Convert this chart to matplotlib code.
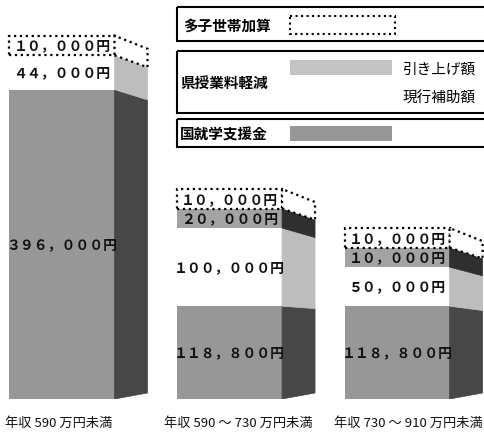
import matplotlib.pyplot as plt
from matplotlib.patches import Polygon, Rectangle

plt.rcParams['font.family'] = ['Noto Sans CJK JP', 'DejaVu Sans']

# data
categories = ['年収 590 万円未満', '年収 590 ～ 730 万円未満', '年収 730 ～ 910 万円未満']
kuni = [396000, 118800, 118800]      # 国就学支援金
genko = [44000, 100000, 50000]       # 現行補助額
hikiage = [0, 20000, 10000]          # 引き上げ額
tashi = [10000, 10000, 10000]        # 多子世帯加算

# small segments are drawn at least this tall, as in the original
min_h = 25000

def disp(v):
    return max(v, min_h) if v > 0 else 0

def zen(v):
    s = f'{v:,}円'
    return s.translate(str.maketrans('0123456789,', '０１２３４５６７８９，'))

# look of each layer: front colour, side colour, dotted outline
styles = [
    ('#979797', '#474747', False),
    ('white', '#bdbdbd', False),
    ('#a3a3a3', '#2f2f2f', False),
    ('white', 'white', True),
]

fig = plt.figure(figsize=(4.85, 4.39), dpi=100)
ax = fig.add_axes([0, 39/439, 1, 400/439])
ax.set_xlim(-0.370, 2.525)
ax.set_ylim(0, 512000)
ax.axis('off')

w = 0.627
depth = 0.197
d_top = 16700
d_bot = -7700
label_shift = [-0.02, 0.05, 0.07]

for i in range(3):
    layers = [kuni[i], genko[i], hikiage[i], tashi[i]]
    H = sum(disp(v) for v in layers)
    def drop(y):
        return d_bot + (d_top - d_bot) * y / H
    y0 = 0
    xr = i + w / 2
    for v, (fc, sc, dotted) in zip(layers, styles):
        h = disp(v)
        if h == 0:
            continue
        y1 = y0 + h
        ax.bar(i, h, width=w, bottom=y0, color=fc,
               edgecolor='black' if dotted else 'none',
               linestyle=':' if dotted else '-', linewidth=1.6)
        side = Polygon([(xr, y0), (xr + depth, y0 - drop(y0)),
                        (xr + depth, y1 - drop(y1)), (xr, y1)],
                       closed=True, facecolor=sc,
                       edgecolor='black' if dotted else sc,
                       linestyle=':' if dotted else '-',
                       linewidth=1.6 if dotted else 0.5)
        ax.add_patch(side)
        ax.text(i, (y0 + y1) / 2, zen(v), ha='center', va='center',
                fontsize=10, fontweight='bold', color='#111111')
        y0 = y1
    ax.text(i + label_shift[i], -22000, categories[i], ha='center', va='top',
            fontsize=9.5, color='#111111')

# legend panel (pixel coordinates)
lg = fig.add_axes([0, 0, 1, 1])
lg.set_xlim(0, 485)
lg.set_ylim(439, 0)
lg.axis('off')

for top, bot in [(8, 42), (52, 114), (120, 148)]:
    lg.add_patch(Rectangle((177, top), 330, bot - top, fill=False,
                           edgecolor='black', linewidth=1.5))

lg.text(183, 26, '多子世帯加算', va='center', fontsize=10.5, fontweight='bold')
lg.add_patch(Rectangle((290, 17), 105, 18, facecolor='white',
                       edgecolor='black', linestyle=':', linewidth=1.5))

lg.text(180, 83, '県授業料軽減', va='center', fontsize=10.5, fontweight='bold')
lg.add_patch(Rectangle((290, 61), 102, 15, facecolor='#c4c4c4', edgecolor='none'))
lg.text(403, 70, '引き上げ額', va='center', fontsize=10.5)
lg.text(403, 99, '現行補助額', va='center', fontsize=10.5)

lg.text(180, 134, '国就学支援金', va='center', fontsize=10.5, fontweight='bold')
lg.add_patch(Rectangle((290, 127), 102, 15, facecolor='#979797', edgecolor='none'))

fig.savefig('out.png', dpi=100)
